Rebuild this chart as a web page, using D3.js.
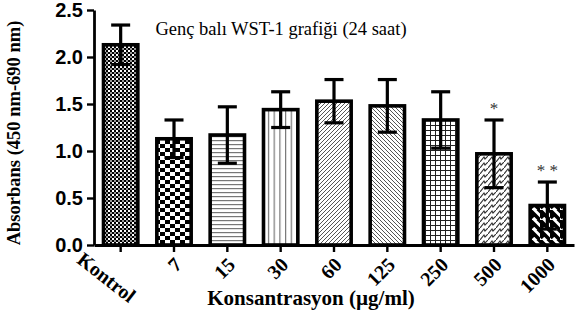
<!DOCTYPE html>
<html>
<head>
<meta charset="utf-8">
<script src="https://cdn.jsdelivr.net/npm/d3@7/dist/d3.min.js"></script>
<style>
  html, body { margin: 0; padding: 0; background: #fff; }
  svg { display: block; }
</style>
</head>
<body>
<svg id="chart" width="577" height="320"></svg>
<script>
// Absorbance per concentration group (mean ± SD)
const categories = ["Kontrol", "7", "15", "30", "60", "125", "250", "500", "1000"];
const means = [2.13, 1.13, 1.17, 1.44, 1.53, 1.48, 1.33, 0.97, 0.42];
const sds   = [0.21, 0.20, 0.30, 0.19, 0.23, 0.28, 0.30, 0.36, 0.25];
const significance = ["", "", "", "", "", "", "", "*", "* *"];
const yTicks = [0.0, 0.5, 1.0, 1.5, 2.0, 2.5];
const patternIds = ["fineCheck", "bigCheck", "hLines", "vLines", "fwdDiag", "backDiag", "grid", "zigzag", "wideDiag"];

const svg = d3.select("#chart");
const serif = "'Liberation Serif', 'Times New Roman', serif";
const sans = "'Liberation Sans', Arial, sans-serif";

const x = d3.scaleBand().domain(categories).range([94, 574]).paddingInner(0.3).paddingOuter(0.15);
const y = d3.scaleLinear().domain([0, 2.5]).range([245, 10]);

// fill patterns
const defs = svg.append("defs");
function pat(id, w, h, draw) {
  const p = defs.append("pattern").attr("id", id).attr("patternUnits", "userSpaceOnUse")
    .attr("width", w).attr("height", h);
  p.append("rect").attr("width", w).attr("height", h).attr("fill", "#fff");
  draw(p);
}
pat("fineCheck", 4, 4, p => {
  p.append("rect").attr("width", 2).attr("height", 2).attr("fill", "#000");
  p.append("rect").attr("x", 2).attr("y", 2).attr("width", 2).attr("height", 2).attr("fill", "#000");
  p.append("rect").attr("x", 2).attr("y", 0).attr("width", 2).attr("height", 2).attr("fill", "#999");
});
pat("bigCheck", 10, 8, p => {
  p.append("rect").attr("width", 5).attr("height", 4).attr("fill", "#000");
  p.append("rect").attr("x", 5).attr("y", 4).attr("width", 5).attr("height", 4).attr("fill", "#000");
});
pat("hLines", 4, 4, p => {
  p.append("rect").attr("y", 0).attr("width", 4).attr("height", 1.2).attr("fill", "#777");
});
pat("vLines", 5.7, 4, p => {
  p.append("rect").attr("x", 0).attr("width", 1.2).attr("height", 4).attr("fill", "#777");
});
pat("fwdDiag", 4, 4, p => {
  p.append("path").attr("d", "M-1,1 L1,-1 M0,4 L4,0 M3,5 L5,3").attr("stroke", "#555").attr("stroke-width", 1);
});
pat("backDiag", 4, 4, p => {
  p.append("path").attr("d", "M-1,3 L1,5 M0,0 L4,4 M3,-1 L5,1").attr("stroke", "#555").attr("stroke-width", 1);
});
pat("grid", 5, 5, p => {
  p.append("path").attr("d", "M0,0.5 H5 M0.5,0 V5").attr("stroke", "#222").attr("stroke-width", 1);
});
pat("zigzag", 8, 6, p => {
  p.append("path").attr("d", "M0,6 L4,1 L5,3 L8,0").attr("fill", "none").attr("stroke", "#333").attr("stroke-width", 1.1);
});
pat("wideDiag", 10, 10, p => {
  p.append("path").attr("d", "M-3,2 L3,8 M0,0 L10,10 M7,-2 L13,4").attr("stroke", "#000").attr("stroke-width", 3.6);
});

// bars
svg.append("g").selectAll("rect").data(categories).join("rect")
  .attr("x", d => x(d) + 1.5)
  .attr("y", (d, i) => y(means[i]))
  .attr("width", x.bandwidth() - 3)
  .attr("height", (d, i) => y(0) - y(means[i]))
  .attr("fill", (d, i) => `url(#${patternIds[i]})`)
  .attr("stroke", "#000").attr("stroke-width", 3.6);

// error bars
const eb = svg.append("g").attr("stroke", "#000").attr("stroke-width", 3.2);
categories.forEach((c, i) => {
  const cx = x(c) + x.bandwidth() / 2;
  const hi = y(means[i] + sds[i]), lo = y(means[i] - sds[i]);
  eb.append("line").attr("x1", cx).attr("x2", cx).attr("y1", hi).attr("y2", lo);
  eb.append("line").attr("x1", cx - 9.5).attr("x2", cx + 9.5).attr("y1", hi).attr("y2", hi);
  eb.append("line").attr("x1", cx - 9.5).attr("x2", cx + 9.5).attr("y1", lo).attr("y2", lo);
});

// significance marks
svg.append("g").selectAll("text").data(categories).join("text")
  .attr("x", d => x(d) + x.bandwidth() / 2)
  .attr("y", (d, i) => y(means[i] + sds[i]) - 6)
  .attr("text-anchor", "middle")
  .attr("font-family", serif).attr("font-size", 17).attr("fill", "#333")
  .text((d, i) => significance[i]);

// y axis
const yAxis = svg.append("g").attr("transform", "translate(94,0)")
  .call(d3.axisLeft(y).tickValues(yTicks).tickFormat(d3.format(".1f")).tickSize(7).tickSizeOuter(0));
yAxis.select(".domain").attr("stroke-width", 2.8);
yAxis.selectAll(".tick line").attr("stroke-width", 2.4);
yAxis.selectAll(".tick text").attr("font-family", sans).attr("font-weight", "bold")
  .attr("font-size", 20).attr("fill", "#000").attr("dx", "-1");

// x axis
const xAxis = svg.append("g").attr("transform", "translate(0,245)")
  .call(d3.axisBottom(x).tickSize(7).tickSizeOuter(0));
xAxis.select(".domain").attr("stroke-width", 2.8);
xAxis.selectAll(".tick line").attr("stroke-width", 2.4);
xAxis.selectAll(".tick text").remove();

// category labels: first one slopes down, the rest slope up
svg.append("g").selectAll("text").data(categories).join("text")
  .attr("font-family", serif).attr("font-weight", "bold").attr("font-size", 20).attr("fill", "#000")
  .attr("text-anchor", (d, i) => i === 0 ? "start" : "end")
  .attr("transform", (d, i) => {
    const cx = x(d) + x.bandwidth() / 2;
    return i === 0 ? `translate(${cx - 45},262) rotate(38)` : `translate(${cx + 9},266) rotate(-45)`;
  })
  .text(d => d);

// titles
svg.append("text").attr("x", 281).attr("y", 35).attr("text-anchor", "middle")
  .attr("font-family", serif).attr("font-size", 18.5).attr("fill", "#000")
  .text("Genç balı WST-1 grafiği (24 saat)");

svg.append("text").attr("x", 311).attr("y", 305).attr("text-anchor", "middle")
  .attr("font-family", serif).attr("font-weight", "bold").attr("font-size", 21).attr("fill", "#000")
  .text("Konsantrasyon (µg/ml)");

svg.append("text").attr("transform", "translate(20,133) rotate(-90)").attr("text-anchor", "middle")
  .attr("font-family", serif).attr("font-weight", "bold").attr("font-size", 18.5).attr("fill", "#000")
  .text("Absorbans (450 nm-690 nm)");
</script>
</body>
</html>
